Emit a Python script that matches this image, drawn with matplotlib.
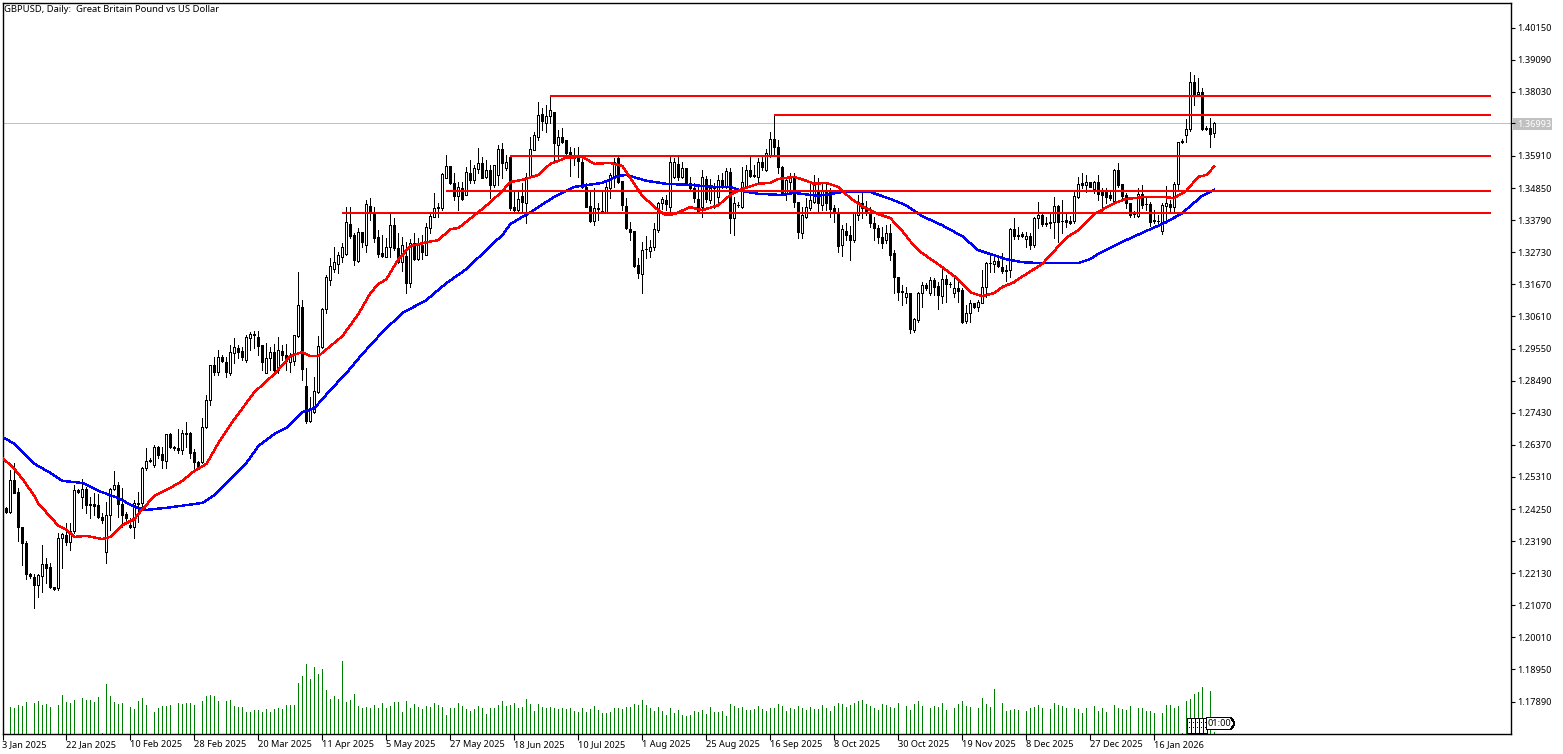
import matplotlib
matplotlib.use("Agg")
import matplotlib.pyplot as plt
from matplotlib.patches import Polygon, Rectangle
import numpy as np

# prices are quoted in 1/10000 of a dollar
open_px = [12429,12429,12415,12521,12481,12366,12313,12211,12201,12174,
12204,12244,12234,12168,12165,12330,12339,12316,12353,12488,
12465,12491,12442,12442,12438,12399,12283,12405,12491,12504,
12442,12409,12372,12366,12442,12445,12561,12584,12570,12630,
12607,12584,12673,12630,12627,12620,12676,12676,12613,12580,
12580,12696,12785,12900,12877,12927,12910,12874,12940,12957,
12947,12917,12990,13003,12993,12966,12874,12924,12943,12884,
12947,12933,12910,12914,12996,13092,12831,12716,12745,12811,
12960,13085,13181,13217,13234,13257,13267,13366,13329,13244,
13339,13296,13425,13402,13323,13270,13257,13290,13362,13287,
13240,13260,13171,13303,13250,13296,13263,13353,13389,13419,
13419,13519,13558,13502,13459,13486,13462,13535,13512,13548,
13568,13522,13545,13495,13528,13614,13552,13588,13422,13412,
13459,13435,13522,13611,13654,13730,13700,13723,13736,13627,
13654,13644,13604,13585,13585,13571,13489,13425,13376,13415,
13409,13405,13486,13525,13585,13509,13425,13349,13343,13230,
13201,13283,13277,13290,13346,13435,13445,13422,13522,13565,
13522,13552,13502,13486,13449,13422,13515,13445,13486,13456,
13512,13489,13538,13386,13428,13422,13489,13545,13528,13522,
13571,13545,13594,13647,13621,13555,13466,13505,13519,13438,
13336,13389,13419,13438,13476,13428,13472,13479,13419,13402,
13296,13343,13329,13313,13395,13435,13419,13405,13369,13353,
13323,13313,13336,13270,13191,13145,13125,13138,13016,13049,
13138,13164,13138,13181,13161,13128,13184,13168,13138,13155,
13148,13046,13072,13105,13092,13105,13158,13237,13234,13244,
13224,13214,13214,13349,13329,13333,13316,13326,13296,13386,
13395,13369,13372,13372,13425,13375,13379,13376,13376,13456,
13502,13495,13505,13482,13505,13479,13472,13462,13442,13545,
13499,13462,13435,13399,13392,13466,13432,13432,13379,13376,
13343,13425,13432,13422,13499,13641,13660,13680,13835,13796,
13802,13684,13684,13667]
high_px = [12435,12432,12554,12577,12495,12366,12320,12214,12211,12211,
12307,12263,12247,12168,12346,12346,12379,12379,12504,12491,
12524,12498,12465,12478,12475,12412,12448,12495,12551,12514,
12495,12415,12396,12455,12481,12564,12627,12594,12636,12633,
12630,12673,12676,12633,12689,12686,12712,12679,12623,12584,
12726,12801,12900,12927,12950,12933,12927,12966,12990,12966,
12960,13000,13009,13013,13013,12966,12973,12960,12970,12993,
12966,12970,12940,13000,13207,13115,12891,12795,12861,12996,
13089,13197,13254,13290,13273,13303,13422,13422,13336,13353,
13339,13445,13452,13422,13346,13329,13320,13402,13386,13336,
13323,13306,13316,13336,13320,13329,13369,13402,13469,13435,
13535,13594,13558,13535,13505,13505,13555,13578,13561,13617,
13588,13578,13561,13561,13627,13634,13594,13588,13479,13479,
13502,13535,13654,13670,13769,13749,13759,13792,13736,13677,
13684,13644,13621,13617,13621,13588,13502,13472,13486,13435,
13472,13502,13535,13585,13594,13509,13452,13372,13343,13254,
13306,13326,13313,13369,13438,13456,13462,13588,13585,13588,
13571,13552,13522,13502,13489,13545,13525,13515,13502,13528,
13535,13552,13552,13456,13438,13555,13561,13588,13561,13585,
13594,13614,13670,13726,13644,13558,13522,13535,13535,13438,
13422,13452,13502,13528,13519,13505,13502,13486,13428,13419,
13362,13369,13359,13405,13462,13472,13442,13422,13389,13362,
13356,13362,13366,13280,13191,13164,13158,13138,13056,13141,
13174,13171,13191,13188,13174,13217,13197,13174,13194,13188,
13155,13098,13115,13105,13115,13214,13240,13270,13257,13254,
13270,13230,13353,13386,13356,13339,13339,13336,13389,13438,
13402,13389,13405,13456,13428,13445,13405,13392,13472,13522,
13535,13528,13505,13509,13528,13486,13486,13472,13548,13568,
13499,13469,13435,13409,13486,13495,13452,13438,13412,13395,
13435,13492,13445,13505,13637,13647,13713,13868,13858,13848,
13815,13690,13716,13703]
low_px = [12372,12412,12412,12478,12320,12240,12194,12198,12098,12135,
12151,12181,12165,12158,12158,12231,12307,12290,12346,12478,
12429,12412,12396,12405,12396,12379,12247,12356,12488,12399,
12366,12389,12363,12330,12382,12432,12554,12580,12564,12594,
12561,12561,12627,12620,12610,12607,12630,12594,12554,12564,
12577,12693,12768,12867,12867,12910,12861,12867,12907,12924,
12917,12910,12950,12957,12933,12884,12874,12884,12874,12874,
12917,12884,12877,12900,12993,12851,12709,12712,12742,12808,
12957,13072,13164,13207,13204,13240,13263,13320,13230,13240,
13290,13273,13379,13306,13257,13257,13257,13257,13280,13237,
13211,13138,13158,13247,13247,13250,13263,13336,13389,13389,
13412,13519,13499,13445,13412,13445,13462,13502,13502,13535,
13519,13519,13452,13489,13495,13519,13545,13412,13402,13402,
13405,13369,13519,13611,13644,13677,13670,13700,13571,13585,
13634,13594,13525,13561,13522,13486,13422,13372,13362,13379,
13402,13402,13452,13489,13502,13412,13349,13313,13224,13188,
13138,13254,13257,13280,13339,13415,13412,13405,13519,13512,
13519,13495,13479,13438,13402,13389,13438,13435,13419,13428,
13486,13486,13336,13329,13422,13419,13486,13522,13522,13502,
13545,13542,13588,13594,13535,13462,13445,13469,13422,13320,
13320,13386,13412,13435,13405,13412,13412,13389,13372,13273,
13260,13313,13247,13306,13379,13386,13395,13356,13313,13303,
13287,13303,13247,13138,13115,13098,13105,13006,13009,13043,
13092,13148,13131,13131,13085,13105,13108,13158,13125,13108,
13039,13039,13043,13089,13079,13105,13125,13207,13207,13224,
13204,13178,13191,13316,13316,13323,13290,13283,13290,13353,
13359,13359,13353,13320,13306,13336,13356,13366,13369,13452,
13486,13472,13489,13469,13445,13409,13435,13445,13438,13489,
13445,13419,13389,13389,13389,13419,13412,13359,13369,13369,
13333,13379,13405,13405,13479,13634,13637,13673,13759,13792,
13677,13677,13621,13654]
close_px = [12379,12415,12521,12478,12366,12313,12211,12204,12174,12207,
12244,12231,12168,12161,12330,12343,12316,12353,12488,12481,
12491,12438,12438,12435,12399,12389,12405,12491,12504,12442,
12405,12396,12366,12445,12445,12561,12584,12587,12630,12603,
12587,12673,12630,12627,12620,12676,12673,12610,12580,12567,
12696,12785,12900,12877,12927,12914,12877,12943,12960,12943,
12927,12993,13003,13000,12963,12910,12924,12943,12884,12950,
12933,12914,12927,13000,13098,12887,12716,12752,12815,12963,
13085,13191,13227,13240,13263,13290,13372,13326,13247,13339,
13306,13432,13402,13320,13267,13260,13290,13362,13287,13240,
13296,13171,13303,13250,13296,13273,13356,13392,13419,13422,
13532,13558,13502,13459,13489,13449,13538,13512,13552,13568,
13519,13545,13495,13561,13614,13568,13571,13419,13412,13449,
13438,13522,13614,13660,13726,13707,13723,13743,13634,13654,
13637,13601,13598,13588,13574,13489,13422,13376,13419,13419,
13405,13489,13528,13571,13505,13428,13353,13339,13227,13204,
13280,13283,13290,13349,13435,13449,13432,13571,13571,13522,
13552,13502,13486,13452,13405,13522,13449,13486,13486,13512,
13489,13542,13386,13435,13428,13505,13545,13525,13525,13571,
13555,13601,13647,13621,13555,13466,13512,13519,13438,13339,
13395,13422,13445,13495,13435,13479,13435,13415,13402,13293,
13349,13329,13313,13402,13438,13419,13405,13369,13353,13323,
13303,13336,13263,13191,13141,13141,13138,13019,13052,13138,
13164,13155,13181,13158,13131,13184,13168,13168,13155,13145,
13043,13072,13105,13092,13108,13158,13237,13237,13244,13227,
13211,13211,13349,13326,13326,13326,13326,13296,13386,13395,
13366,13366,13369,13425,13372,13376,13372,13369,13459,13499,
13495,13505,13489,13505,13466,13462,13456,13452,13545,13495,
13459,13435,13396,13399,13466,13428,13432,13372,13376,13376,
13428,13435,13422,13499,13637,13637,13680,13835,13796,13802,
13680,13680,13664,13699.3]
volume = [0,0,27,26,29,28,32,0,31,33,29,30,27,0,29,39,32,31,34,0,
36,34,34,32,37,1,50,38,32,30,31,0,27,25,33,36,29,0,22,26,
28,28,29,0,31,30,31,31,29,0,33,38,39,38,33,0,33,34,28,27,
27,22,22,24,24,22,25,22,25,26,25,29,29,29,51,58,70,55,67,60,
65,44,35,38,35,73,32,34,40,28,26,27,26,29,26,31,26,28,32,32,
22,33,26,30,27,25,28,27,31,29,27,19,26,26,31,28,25,23,25,28,
26,20,26,26,29,33,28,29,31,26,27,35,30,23,30,27,26,27,26,25,
26,25,26,23,22,26,22,25,28,24,21,21,22,26,26,25,27,27,30,29,
34,29,26,23,27,23,19,26,21,24,19,18,19,23,22,24,20,27,22,22,
23,18,30,28,26,27,24,24,25,28,25,23,26,26,30,28,23,26,25,28,
26,24,27,25,25,29,26,23,28,31,30,27,29,31,33,34,30,28,26,24,
30,29,27,26,31,0,28,24,30,33,28,0,26,28,27,31,24,0,26,30,
33,28,27,0,26,36,30,27,45,0,31,23,24,25,24,0,23,26,27,29,
26,0,25,31,29,28,26,0,26,25,21,26,0,28,23,26,22,0,29,26,
25,24,28,0,26,26,23,23,21,0,21,29,29,26,28,1,33,35,40,42,
47,0,43,2]

red_ma_bars = [0,3,5,8,9,12,14,16,18,21,25,27,30,33,35,38,42,45,48,51,54,58,63,68,72,75,77,79,85,89,92,94,96,99,102,106,109,112,114,119,122,125,127,130,134,137,141,145,148,152,155,158,160,164,166,168,172,175,179,182,185,189,192,194,198,201,203,206,209,212,215,219,222,225,228,230,235,239,242,245,248,250,253,254,260,263,266,269,273,278,281,286,290,293,296,299,301,303]
red_ma = [12594,12557,12524,12468,12442,12399,12369,12356,12333,12336,12326,12333,12372,12392,12425,12468,12495,12518,12551,12574,12643,12722,12811,12871,12930,12943,12930,12930,12996,13069,13138,13168,13184,13250,13293,13306,13313,13349,13353,13405,13438,13475,13505,13512,13528,13565,13585,13588,13565,13568,13558,13499,13459,13412,13395,13399,13422,13412,13428,13462,13482,13499,13502,13515,13522,13509,13499,13502,13489,13452,13425,13399,13386,13343,13293,13270,13224,13184,13141,13128,13138,13158,13174,13184,13234,13277,13320,13346,13399,13435,13449,13456,13456,13452,13475,13522,13528,13555]
blue_ma_bars = [0,3,5,8,12,15,20,24,29,33,36,41,50,53,57,61,64,68,71,75,78,82,86,90,95,100,106,111,116,123,125,127,132,138,143,150,154,156,161,166,172,178,182,185,189,195,198,204,210,217,222,226,230,235,240,244,251,255,260,269,272,274,276,281,286,291,295,300,303]
blue_ma = [12663,12640,12613,12574,12544,12518,12511,12485,12461,12432,12422,12429,12445,12471,12524,12577,12633,12673,12693,12745,12758,12818,12874,12937,13009,13072,13115,13171,13217,13306,13329,13366,13405,13456,13489,13502,13525,13528,13509,13499,13495,13489,13489,13475,13466,13462,13469,13459,13472,13472,13449,13428,13392,13362,13326,13280,13250,13240,13237,13237,13250,13267,13280,13313,13343,13372,13402,13459,13479]

level_prices = [13789,13726,13591,13475,13403]
level_start_bars = [137,193,127,111,85]
level_end_bar = 372.25

bid_price = 1.36993
price_ticks = ["1.40150","1.39090","1.38030","1.35910","1.34850","1.33790","1.32730","1.31670","1.30610","1.29550","1.28490","1.27430","1.26370","1.25310","1.24250","1.23190","1.22130","1.21070","1.20010","1.18950","1.17890"]
date_labels = ["3 Jan 2025","22 Jan 2025","10 Feb 2025","28 Feb 2025","20 Mar 2025","11 Apr 2025","5 May 2025","27 May 2025","18 Jun 2025","10 Jul 2025","1 Aug 2025","25 Aug 2025","16 Sep 2025","8 Oct 2025","30 Oct 2025","19 Nov 2025","8 Dec 2025","27 Dec 2025","16 Jan 2026"]

W, H = 1563, 754
plt.rcParams['font.family'] = ['Noto Sans', 'DejaVu Sans']
fig = plt.figure(figsize=(W/100, H/100), dpi=100, facecolor='white')
L, R, T, B = 2.5, 1510.5, 2.5, 733.5
ax = fig.add_axes([L/W, 1-B/H, (R-L)/W, (B-T)/H])
PX = 4.0   # pixels per bar
ax.set_xlim((L-2)/PX, (R-2)/PX)
to_price = lambda y: (14106 - 3.3025*y)/10000
ax.set_ylim(to_price(B), to_price(T))

o = np.array(open_px)/1e4; h = np.array(high_px)/1e4; l = np.array(low_px)/1e4; c = np.array(close_px)/1e4
n = min(len(o), len(h), len(l), len(c))
o, h, l, c = o[:n], h[:n], l[:n], c[:n]
bars = np.arange(n)

# volume on its own scale, sharing the bottom of the pane
vax = ax.twinx()
vax.set_ylim(0, B-T)
vax.set_axis_off()
vol = np.array(volume[:n], float)
vm = vol > 0
vax.vlines(bars[vm], 0, vol[vm], color='#008000', lw=0.72, antialiased=False, zorder=1)

ax.set_zorder(vax.get_zorder()+1)
ax.patch.set_visible(False)

ax.axhline(bid_price, color='#c0c0c0', lw=0.72, zorder=1, antialiased=False)
ax.vlines(bars, l, h, color='black', lw=0.72, antialiased=False, zorder=2)
top = np.maximum(o, c); bot = np.minimum(o, c)
cols = ['white' if c[i] >= o[i] else 'black' for i in range(n)]
ax.bar(bars, np.maximum(top-bot, 1e-5), bottom=bot, width=0.5, color=cols, edgecolor='black', lw=0.72, antialiased=False, zorder=3)

MA_LW = 1.0
ax.plot(red_ma_bars, np.array(red_ma)/1e4, color='#ff0000', lw=MA_LW, zorder=5, solid_joinstyle='round', antialiased=False)
ax.plot(blue_ma_bars, np.array(blue_ma)/1e4, color='#0000ff', lw=MA_LW, zorder=4, solid_joinstyle='round', antialiased=False)
for p, s in zip(level_prices, level_start_bars):
    ax.hlines(p/1e4, s, level_end_bar, color='#ff0000', lw=1.44, zorder=6)

for s in ax.spines.values():
    s.set_linewidth(1.0); s.set_color('black')
ax.yaxis.tick_right()
yt = [float(t) for t in price_ticks] + [bid_price]
ax.set_yticks(yt)
ax.set_yticklabels(price_ticks + ["1.36993"])
ax.tick_params(axis='y', length=3, width=0.8, pad=1.5, labelsize=6.6, labelcolor='black')
lab = ax.get_yticklabels()[-1]
lab.set_color('white')
xt = np.arange(len(date_labels))*16
ax.set_xticks(xt)
ax.set_xticklabels(date_labels, ha='left')
ax.tick_params(axis='x', length=4, width=0.8, pad=0.5, labelsize=6.6)

tr = fig.transFigure
def P(x, y): return (x/W, 1-y/H)
# grey box behind the current price label
fig.add_artist(Rectangle(P(1513, 129.5), 39/W, 11.5/H, transform=tr, facecolor='#c0c0c0', edgecolor='none', zorder=-1))
# stacked period-separator time tags near the last bars
for xl in [1186.5, 1190.5, 1194.5, 1198.5, 1202.5]:
    fig.add_artist(Rectangle(P(xl, 733), 4/W, 15.5/H, transform=tr, facecolor='white', edgecolor='black', lw=0.72, antialiased=False, zorder=7))
    for yd in [722.5, 727.5]:
        fig.add_artist(Rectangle(P(xl+2, yd), 1/W, 1/H, transform=tr, facecolor='black', edgecolor='none', antialiased=False, zorder=7))
fig.add_artist(Polygon([P(1206.5, 717.5), P(1231, 717.5), P(1234.5, 723.5), P(1231, 729.5), P(1206.5, 729.5)], closed=True, transform=tr, facecolor='white', edgecolor='black', lw=0.72, antialiased=False, zorder=8))
fig.text(1208/W, 1-723.5/H, "01:00", fontsize=6.6, va='center', ha='left', color='black', zorder=9)
fig.text(4/W, 1-9.5/H, "GBPUSD, Daily:  Great Britain Pound vs US Dollar", fontsize=6.8, va='center', ha='left', color='black')

fig.savefig('out.png', dpi=100, facecolor='white')
